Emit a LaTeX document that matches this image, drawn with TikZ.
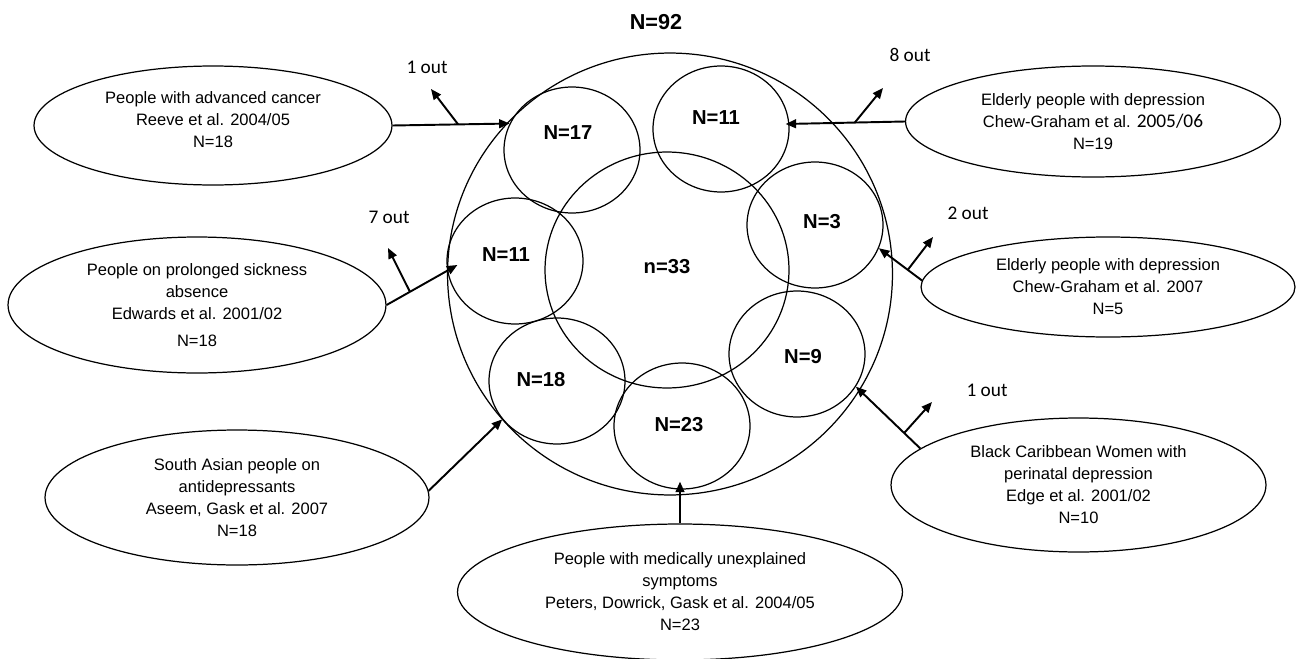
\documentclass[tikz,border=0pt]{standalone}
\usepackage{fontspec}
\setmainfont{Liberation Sans}
\newfontfamily\calfont{Carlito}
\usetikzlibrary{arrows.meta,shapes.geometric,calc}
\begin{document}
\begin{tikzpicture}[x=0.02cm,y=-0.02cm,
  txt/.style={align=center,font=\fontsize{9.4}{12.5}\selectfont},
  grp/.style={draw,ellipse,inner sep=0pt,line width=0.7pt,txt},
  sub/.style={draw,ellipse,inner sep=0pt,line width=0.7pt,minimum width=2.72cm,minimum height=2.52cm},
  lab/.style={font=\fontsize{11.5}{13}\selectfont\bfseries},
  outlab/.style={font=\calfont\fontsize{11}{13}\selectfont},
  arr/.style={line width=1.1pt,-{Triangle[length=6pt,width=5pt]}},
]
\useasboundingbox (0,0) rectangle (1298,659);

% title
\node[font=\fontsize{12.3}{14}\selectfont\bfseries] (title) at (656,22) {N=92};

% big and inner circles
\node[sub,minimum width=8.9cm,minimum height=8.84cm] (outer) at (670,274) {};
\node[sub,minimum width=4.88cm,minimum height=4.72cm] (inner) at (667,270) {};
\node[lab] (tin) at (667,267) {n=33};

% study circles
\node[sub] (c17) at (572,150) {};
\node[sub] (c11t) at (721,129) {};
\node[sub] (c3) at (815,225) {};
\node[sub] (c9) at (797,354) {};
\node[sub] (c23) at (682,426) {};
\node[sub] (c18) at (557,381) {};
\node[sub] (c11l) at (515,261) {};
\node[lab] (t17) at (568,133) {N=17};
\node[lab] (t11t) at (716,118) {N=11};
\node[lab] (t3) at (822,222) {N=3};
\node[lab] (t9) at (803,357) {N=9};
\node[lab] (t23) at (679,425) {N=23};
\node[lab] (t18) at (541,380) {N=18};
\node[lab] (t11l) at (506,255) {N=11};

% study ellipses
\node[grp,minimum width=7.16cm,minimum height=2.38cm,
  label={[txt,yshift=0.11cm]center:{People with advanced cancer\\Reeve et al. 2004/05\\N=18}}] (e1) at (213,125.5) {};
\node[grp,minimum width=7.56cm,minimum height=2.72cm] (e2) at (197,305)
  {People on prolonged sickness\\absence\\Edwards et al. 2001/02\\[3pt]N=18};
\node[grp,minimum width=7.68cm,minimum height=2.70cm] (e3) at (237,497.5)
  {South Asian people on\\antidepressants\\Aseem, Gask et al. 2007\\N=18};
\node[grp,minimum width=8.90cm,minimum height=2.72cm] (e4) at (680,592)
  {People with medically unexplained\\symptoms\\Peters, Dowrick, Gask et al. 2004/05\\N=23};
\node[grp,minimum width=7.50cm,minimum height=2.22cm] (e5) at (1093,121.5)
  {Elderly people with depression\\Chew-Graham et al. {\calfont\fontsize{11}{12.5}\selectfont 2005/06}\\N=19};
\node[grp,minimum width=7.48cm,minimum height=2.00cm] (e6) at (1108,287)
  {Elderly people with depression\\Chew-Graham et al. 2007\\N=5};
\node[grp,minimum width=7.50cm,minimum height=2.68cm] (e7) at (1078.5,485)
  {Black Caribbean Women with\\perinatal depression\\Edge et al. 2001/02\\N=10};

% connectors
\draw[arr] (e1.east) -- coordinate[pos=0.56] (b1) (c17.157);
\coordinate (o1) at (431,89);
\draw[arr] (b1) -- (o1);
\node[outlab] (l1) at (427,67) {1 out};

\draw[arr] (e2.east) -- coordinate[pos=0.33] (b2) ([shift={(11,4)}]c11l.west);
\coordinate (o2) at (388,248);
\draw[arr] (b2) -- (o2);
\node[outlab] (l2) at (389,217) {7 out};

\draw[arr] (e3.2.5) -- (c18.215);

\draw[arr,shorten >=-0.16cm] (e4.north) -- (e4.north |- c23.south);

\draw[arr] (e5.west) -- coordinate[pos=0.42] (b5) ([shift={(-4,-5)}]c11t.east);
\coordinate (o5) at (883,88);
\draw[arr] (b5) -- (o5);
\node[outlab] (l5) at (910,55) {8 out};

\draw[arr] (e6.178) -- coordinate[pos=0.33] (b6) (c3.-20);
\coordinate (o6) at (933,237);
\draw[arr] (b6) -- (o6);
\node[outlab] (l6) at (968,213) {2 out};

\draw[arr] (e7.167.6) -- coordinate[pos=0.25] (b7) (c9.-29);
\coordinate (o7) at (932,402);
\draw[arr] (b7) -- (o7);
\node[outlab] (l7) at (987,390) {1 out};
\end{tikzpicture}
\end{document}
